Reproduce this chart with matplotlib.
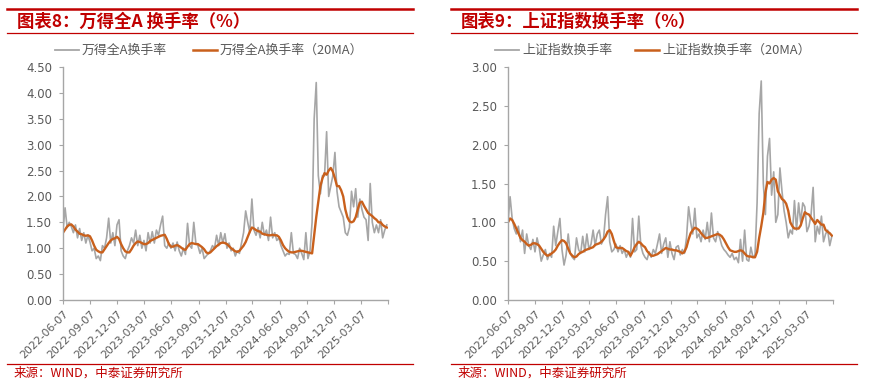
import pandas as pd
import matplotlib
matplotlib.use('Agg')
import matplotlib.pyplot as plt
from matplotlib.lines import Line2D

plt.rcParams['font.family'] = ['Noto Sans CJK SC', 'DejaVu Sans']

# weekly readings, first point 2022-06-07
start = '2022-06-07'

tick_dates = ['2022-06-07', '2022-09-07', '2022-12-07', '2023-03-07', '2023-06-07',
              '2023-09-07', '2023-12-07', '2024-03-07', '2024-06-07', '2024-09-07',
              '2024-12-07', '2025-03-07', '2025-06-07']
tick_labels = tick_dates[:-1] + ['']

# 万得全A换手率
wind_a = [1.35, 1.78, 1.40, 1.50,
          1.42, 1.30, 1.45, 1.20,
          1.38, 1.15, 1.30, 1.10, 1.25,
          1.12, 0.95, 1.00, 0.80,
          0.85, 0.76, 1.05, 1.00,
          1.20, 1.58, 1.10, 1.30, 1.05,
          1.45, 1.55, 0.95, 0.85,
          0.80, 0.95, 1.05, 1.20, 1.10,
          1.35, 1.05, 1.25, 1.00,
          1.15, 0.95, 1.30, 1.10,
          1.32, 1.10, 1.35, 1.25,
          1.45, 1.62, 1.05, 1.00, 1.10,
          1.00, 1.10, 0.95, 1.12,
          0.95, 0.85, 1.00, 0.88,
          1.48, 1.05, 1.00, 1.50, 1.10,
          1.05, 0.90, 1.00, 0.80,
          0.85, 0.90, 0.95, 1.05, 1.00,
          1.25, 1.05, 1.30, 1.10,
          1.28, 1.00, 1.10, 0.95,
          1.00, 0.85, 0.95, 0.90, 1.10,
          1.30, 1.72, 1.50, 1.30,
          1.95, 1.35, 1.25, 1.40,
          1.20, 1.50, 1.25, 1.35, 1.15,
          1.60, 1.20, 1.30, 1.15,
          1.20, 1.05, 0.95, 0.85,
          0.90, 0.88, 1.30, 0.90, 0.88,
          0.80, 1.00, 0.90, 0.78,
          1.30, 0.80, 0.95, 1.50,
          3.50, 4.20, 2.40, 2.05, 2.40,
          2.40, 3.25, 2.00, 2.20,
          2.40, 2.85, 2.10, 1.80, 1.70,
          1.60, 1.30, 1.25, 1.40,
          2.10, 1.80, 2.15, 1.60,
          1.95, 1.75, 1.60, 1.55,
          1.15, 2.25, 1.50, 1.30, 1.45,
          1.30, 1.55, 1.20, 1.35,
          1.45]

wind_a_ma20 = [1.30, 1.36, 1.42, 1.45,
               1.46, 1.42, 1.36, 1.32,
               1.28, 1.27, 1.25, 1.24, 1.25,
               1.23, 1.15, 1.05, 0.97,
               0.94, 0.92, 0.92, 0.98,
               1.04, 1.10, 1.15, 1.18, 1.19,
               1.22, 1.18, 1.08, 1.00,
               0.94, 0.92, 0.92, 0.98, 1.05,
               1.10, 1.13, 1.12, 1.10,
               1.08, 1.08, 1.10, 1.14,
               1.16, 1.18, 1.20, 1.22,
               1.24, 1.25, 1.26, 1.18, 1.08,
               1.03, 1.03, 1.05, 1.06,
               1.04, 1.01, 0.98, 0.97,
               1.03, 1.08, 1.10, 1.09, 1.08,
               1.08, 1.05, 1.02, 0.98,
               0.92, 0.90, 0.92, 0.96, 1.00,
               1.04, 1.07, 1.10, 1.11,
               1.10, 1.08, 1.04, 1.00,
               0.97, 0.94, 0.93, 0.95, 1.00,
               1.05, 1.12, 1.22, 1.32,
               1.40, 1.38, 1.35, 1.33,
               1.32, 1.28, 1.27, 1.26, 1.25,
               1.25, 1.26, 1.25, 1.25,
               1.22, 1.15, 1.06, 1.00,
               0.96, 0.93, 0.92, 0.92, 0.93,
               0.94, 0.95, 0.95, 0.94,
               0.93, 0.92, 0.91, 0.90,
               1.25, 1.60, 1.90, 2.20, 2.35,
               2.45, 2.42, 2.50, 2.55,
               2.48, 2.35, 2.20, 2.20, 2.12,
               2.00, 1.75, 1.60, 1.52,
               1.50, 1.52, 1.60, 1.75,
               1.88, 1.90, 1.82, 1.75,
               1.68, 1.65, 1.62, 1.58, 1.55,
               1.50, 1.50, 1.45, 1.42,
               1.40]

# 上证指数换手率
sh = [1.00, 1.33, 1.05, 0.92,
      0.85, 0.95, 0.75, 0.90,
      0.60, 0.85, 0.70, 0.65, 0.78,
      0.62, 0.80, 0.68, 0.50,
      0.58, 0.65, 0.52, 0.60,
      0.55, 0.95, 0.70, 0.88, 1.05,
      0.65, 0.45, 0.58, 0.85,
      0.60, 0.55, 0.52, 0.80, 0.65,
      0.60, 0.82, 0.62, 0.85,
      0.65, 0.72, 0.90, 0.70,
      0.85, 0.90, 0.72, 0.78,
      1.10, 1.33, 0.75, 0.62, 0.65,
      0.72, 0.62, 0.70, 0.60,
      0.65, 0.55, 0.62, 0.55,
      1.05, 0.62, 0.65, 1.08, 0.70,
      0.60, 0.55, 0.52, 0.62,
      0.55, 0.65, 0.60, 0.72, 0.85,
      0.60, 0.72, 0.80, 0.55,
      0.75, 0.60, 0.52, 0.68,
      0.70, 0.58, 0.65, 0.60, 0.80,
      1.20, 1.00, 0.85, 1.18,
      0.80, 0.85, 0.75, 0.90,
      0.78, 1.00, 0.75, 1.12, 0.80,
      0.75, 0.88, 0.80, 0.70,
      0.65, 0.62, 0.58, 0.55,
      0.60, 0.52, 0.55, 0.48, 0.78,
      0.50, 0.90, 0.52, 0.50,
      0.68, 0.55, 0.58, 1.25,
      2.40, 2.82, 1.50, 1.10, 1.85,
      2.08, 1.35, 1.65, 1.00,
      1.10, 1.70, 1.40, 1.15, 1.00,
      0.80, 0.90, 0.85, 1.28,
      0.90, 1.25, 1.00, 1.25,
      1.20, 0.88, 0.95, 1.10,
      1.45, 0.75, 0.95, 0.85, 1.08,
      0.75, 0.85, 0.90, 0.70,
      0.82]

sh_ma20 = [1.00, 1.05, 1.03, 0.98,
           0.92, 0.86, 0.80, 0.77,
           0.75, 0.72, 0.70, 0.71, 0.73,
           0.73, 0.72, 0.70, 0.66,
           0.62, 0.59, 0.57, 0.58,
           0.60, 0.62, 0.65, 0.70, 0.74,
           0.77, 0.76, 0.73, 0.66,
           0.60, 0.57, 0.55, 0.56, 0.59,
           0.61, 0.62, 0.64, 0.65,
           0.66, 0.67, 0.68, 0.71,
           0.72, 0.73, 0.75, 0.78,
           0.82, 0.88, 0.90, 0.85, 0.76,
           0.68, 0.67, 0.67, 0.67,
           0.65, 0.63, 0.62, 0.57,
           0.62, 0.68, 0.72, 0.75, 0.73,
           0.70, 0.68, 0.63, 0.60,
           0.57, 0.57, 0.58, 0.59, 0.61,
           0.63, 0.65, 0.67, 0.66,
           0.65, 0.65, 0.64, 0.64,
           0.63, 0.62, 0.60, 0.62, 0.68,
           0.78, 0.86, 0.90, 0.93,
           0.92, 0.90, 0.86, 0.83,
           0.80, 0.80, 0.81, 0.82, 0.83,
           0.84, 0.85, 0.84, 0.82,
           0.78, 0.73, 0.68, 0.64,
           0.63, 0.62, 0.62, 0.63, 0.64,
           0.63, 0.60, 0.57, 0.56,
           0.56, 0.55, 0.55, 0.62,
           0.80, 0.95, 1.12, 1.38, 1.52,
           1.50, 1.55, 1.57, 1.55,
           1.40, 1.35, 1.30, 1.28, 1.24,
           1.15, 1.00, 0.95, 0.92,
           0.92, 0.92, 0.96, 1.05,
           1.13, 1.11, 1.10, 1.06,
           1.02, 0.98, 1.03, 1.00, 0.97,
           0.97, 0.90, 0.88, 0.86,
           0.83]

GRAY = '#A6A6A6'
ORANGE = '#C9601C'
RED = '#C00000'
TXT = '#595959'
W, H = 885, 382

fig = plt.figure(figsize=(W / 100, H / 100), dpi=100)


def fx(x):
    return x / W


def fy(y):
    return 1 - y / H


def hline(x0, x1, y, lw):
    fig.add_artist(Line2D([fx(x0), fx(x1)], [fy(y), fy(y)], color=RED, lw=lw,
                          transform=fig.transFigure))


def panel(x0, ax_left, title, name, raw, ma, ymax, leg_x, leg_x2):
    hline(x0 + 7, x0 + 413, 9, 1.8)
    hline(x0 + 7, x0 + 413, 33, 0.9)
    hline(x0 + 7, x0 + 413, 364, 0.9)
    fig.text(fx(x0 + 17), fy(22), title, color=RED, fontsize=12.5,
             fontweight='bold', va='center', ha='left')
    fig.text(fx(x0 + 14), fy(373), '来源：WIND，中泰证券研究所', color=RED,
             fontsize=9, va='center', ha='left')

    # legend
    fig.add_artist(Line2D([fx(leg_x), fx(leg_x + 24)], [fy(50), fy(50)], color=GRAY,
                          lw=1.3, transform=fig.transFigure))
    fig.text(fx(leg_x + 27), fy(50), name, color=TXT, fontsize=9.3, va='center')
    fig.add_artist(Line2D([fx(leg_x2), fx(leg_x2 + 24)], [fy(50), fy(50)], color=ORANGE,
                          lw=1.8, transform=fig.transFigure))
    fig.text(fx(leg_x2 + 27), fy(50), name + '（20MA）', color=TXT, fontsize=9.3,
             va='center')

    ax = fig.add_axes([fx(ax_left), fy(300), 325 / W, 233 / H])
    dates = pd.date_range(start, periods=len(raw), freq='7D')
    ax.plot(dates, raw, color=GRAY, lw=1.2)
    ax.plot(dates, ma, color=ORANGE, lw=1.7)

    ax.set_xlim(pd.Timestamp(tick_dates[0]), pd.Timestamp(tick_dates[-1]))
    ax.set_ylim(0, ymax)
    yt = [i * 0.5 for i in range(int(ymax / 0.5) + 1)]
    ax.set_yticks(yt)
    ax.set_yticklabels(['%.2f' % v for v in yt], fontsize=8.5, color=TXT,
                       family='DejaVu Sans')
    ax.set_xticks(pd.to_datetime(tick_dates))
    ax.set_xticklabels(tick_labels, rotation=45, ha='right', rotation_mode='anchor',
                       fontsize=7.8, color=TXT, family='DejaVu Sans')
    for s in ['top', 'right']:
        ax.spines[s].set_visible(False)
    for s in ['left', 'bottom']:
        ax.spines[s].set_color('#A6A6A6')
        ax.spines[s].set_linewidth(1.0)
    ax.tick_params(axis='both', direction='out', length=3, width=0.8, color='#A6A6A6')
    ax.tick_params(axis='y', pad=5)
    ax.tick_params(axis='x', pad=3)
    return ax


panel(0, 63, '图表8：万得全A 换手率（%）', '万得全A换手率', wind_a, wind_a_ma20, 4.5, 55, 193)
panel(444, 508, '图表9：上证指数换手率（%）', '上证指数换手率', sh, sh_ma20, 3.0, 495, 635)

fig.savefig('out.png', dpi=100)
